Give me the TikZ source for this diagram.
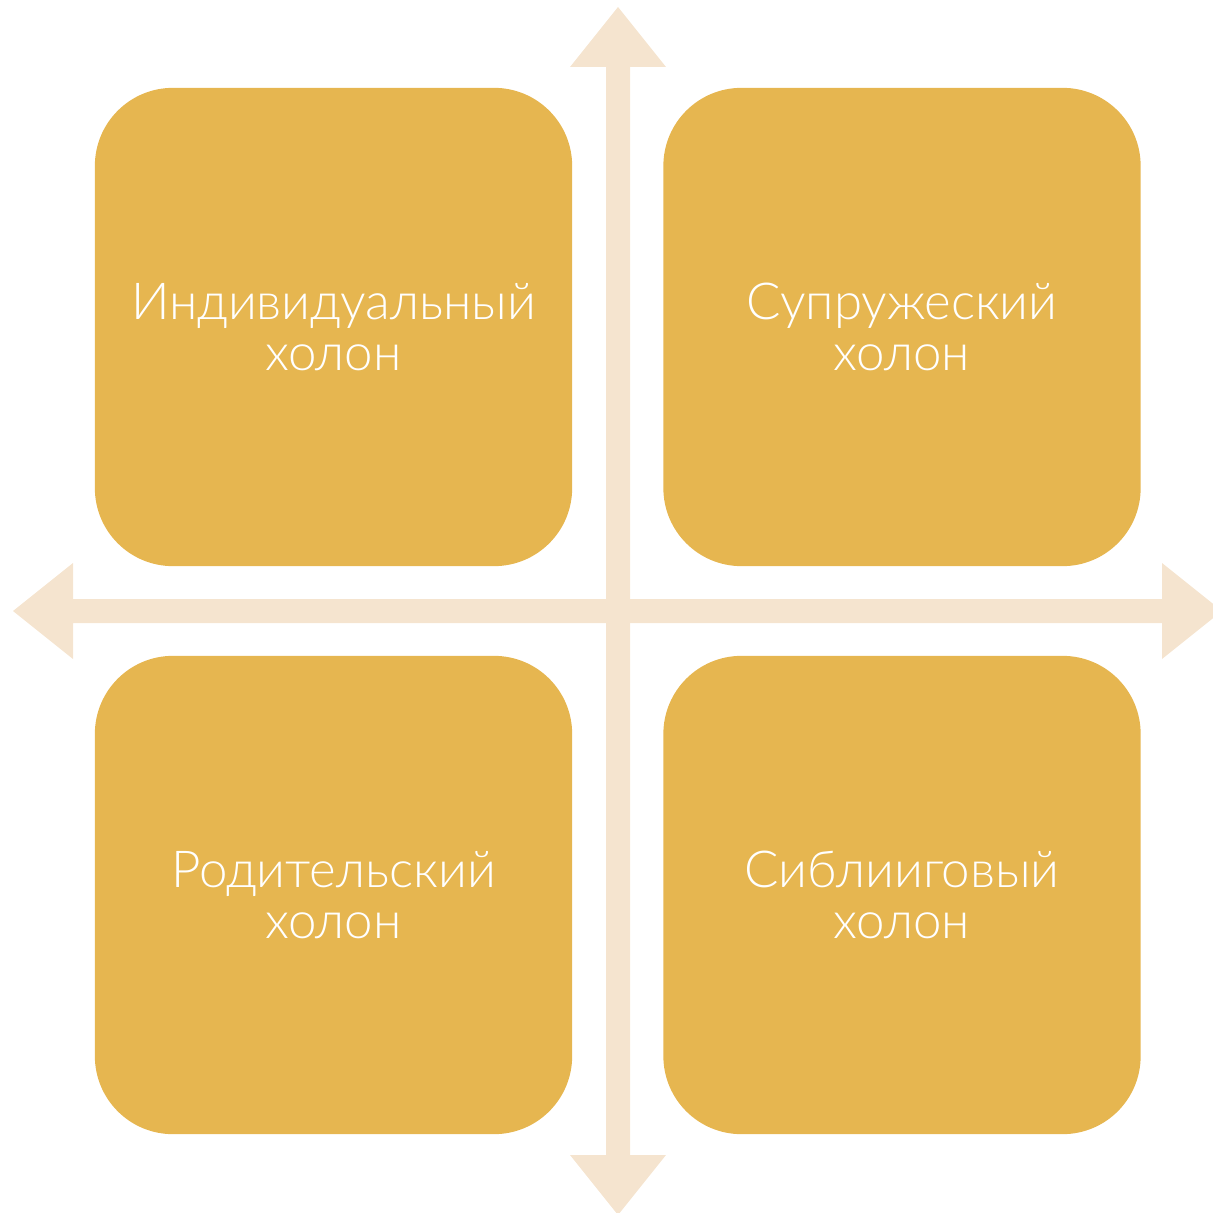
\documentclass[tikz,border=0pt]{standalone}
\usepackage{fontspec}
\setmainfont{Lato}
\newfontfamily\holonfont{Lato Light}
\definecolor{holonyellow}{HTML}{E6B650}
\definecolor{axisbeige}{HTML}{F5E4CF}
\tikzset{
    holon/.style={fill=holonyellow, rounded corners=0.78cm, minimum width=4.77cm, minimum height=4.78cm,
        align=center, text=white, font=\holonfont\fontsize{14.5}{14.5}\selectfont},
    axis/.style={fill=axisbeige}
}
\begin{document}
\begin{tikzpicture}[x=0.01cm,y=-0.01cm]

\useasboundingbox (0,0) rectangle (1213,1213);

% axes
\fill[axis] (618,7) -- (666,67) -- (630,67) -- (630,1155) -- (666,1155) -- (618,1215)
    -- (570,1155) -- (606,1155) -- (606,67) -- (570,67) -- cycle;
\fill[axis] (13,611) -- (73,563) -- (73,599) -- (1162,599) -- (1162,563) -- (1222,611)
    -- (1162,659) -- (1162,623) -- (73,623) -- (73,659) -- cycle;

% holons
\node[holon] (indiv) at (333.5,327) {Индивидуальный\\холон};
\node[holon] (spouse) at (902,327) {Супружеский\\холон};
\node[holon] (parent) at (333.5,895) {Родительский\\холон};
\node[holon] (sibling) at (902,895) {Сиблииговый\\холон};

\end{tikzpicture}
\end{document}
